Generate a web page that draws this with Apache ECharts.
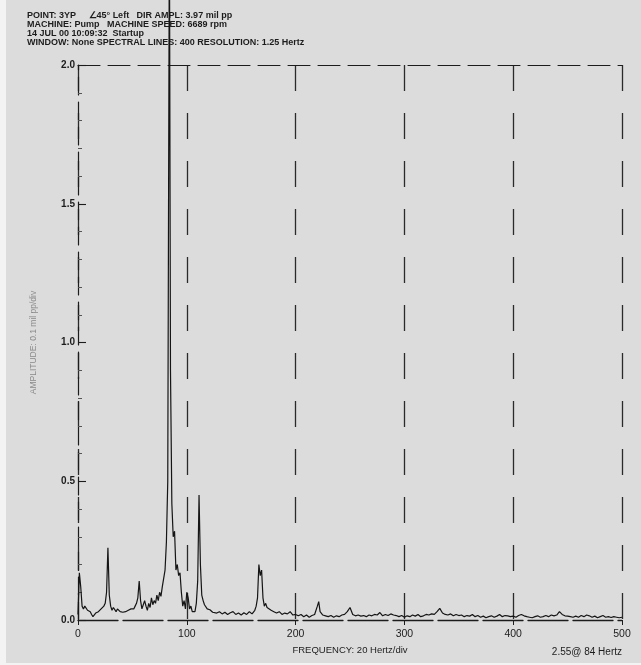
<!DOCTYPE html>
<html>
<head>
<meta charset="utf-8">
<script src="https://cdn.jsdelivr.net/npm/echarts@6/dist/echarts.min.js"></script>
<style>
  html, body { margin: 0; padding: 0; background: #f3f3f3; }
  #chart { width: 641px; height: 665px; }
</style>
</head>
<body>
<div id="chart"></div>
<script>
// Measurement header
const headerLines = [
  'POINT: 3YP     \u222045\u00b0 Left   DIR AMPL: 3.97 mil pp',
  'MACHINE: Pump   MACHINE SPEED: 6689 rpm',
  '14 JUL 00 10:09:32  Startup',
  'WINDOW: None SPECTRAL LINES: 400 RESOLUTION: 1.25 Hertz'
];

// Spectrum: frequency (Hz) and amplitude (mil pp)
const freqHz = [
  0, 1.25, 2.5, 3.75, 5, 6.25, 7.5, 8.75, 10, 11.25, 12.5, 13.75, 15, 16.25, 17.5, 18.75,
  20, 21.25, 22.5, 23.75, 25, 26.25, 27.5, 28.75, 30, 31.25, 32.5, 33.75, 35, 36.25, 37.5, 38.75,
  40, 41.25, 42.5, 43.75, 45, 46.25, 47.5, 48.75, 50, 51.25, 52.5, 53.75, 55, 56.25, 57.5, 58.75,
  60, 61.25, 62.5, 63.75, 65, 66.25, 67.5, 68.75, 70, 71.25, 72.5, 73.75, 75, 76.25, 77.5, 78.75,
  80, 81.25, 82.5, 84, 85, 86.25, 87.5, 88.75, 90, 91.25, 92.5, 93.75, 95, 96.25, 97.5, 98.75,
  100, 101.25, 102.5, 103.75, 105, 106.25, 107.5, 108.75, 110, 111.25, 112.5, 113.75, 115, 116.25, 117.5, 118.75,
  120, 121.25, 122.5, 123.75, 125, 127.5, 130, 132.5, 135, 137.5, 140, 142.5, 145, 147.5, 150, 152.5,
  155, 157.5, 160, 162.5, 163.75, 165, 166.25, 167.5, 168.75, 170, 171.25, 172.5, 173.75, 175, 177.5, 180,
  182.5, 185, 187.5, 190, 192.5, 195, 197.5, 200, 202.5, 205, 207.5, 210, 212.5, 215, 217.5, 220,
  221.25, 222.5, 225, 227.5, 230, 232.5, 235, 237.5, 240, 242.5, 245, 247.5, 250, 252.5, 255, 257.5,
  260, 262.5, 265, 267.5, 270, 272.5, 275, 277.5, 280, 282.5, 285, 287.5, 290, 292.5, 295, 297.5,
  300, 302.5, 305, 307.5, 310, 312.5, 315, 317.5, 320, 322.5, 325, 327.5, 330, 332.5, 335, 337.5,
  340, 342.5, 345, 347.5, 350, 352.5, 355, 357.5, 360, 362.5, 365, 367.5, 370, 372.5, 375, 377.5,
  380, 382.5, 385, 387.5, 390, 392.5, 395, 397.5, 400, 402.5, 405, 407.5, 410, 412.5, 415, 417.5,
  420, 422.5, 425, 427.5, 430, 432.5, 435, 437.5, 440, 442.5, 443.75, 445, 447.5, 450, 452.5, 455,
  457.5, 460, 462.5, 465, 467.5, 470, 472.5, 475, 477.5, 480, 482.5, 485, 487.5, 490, 492.5, 495,
  497.5, 500
];
const ampMil = [
  0.02, 0.17, 0.12, 0.05, 0.04, 0.05, 0.045, 0.035, 0.04, 0.03, 0.02, 0.012, 0.015, 0.025, 0.02, 0.03,
  0.035, 0.04, 0.045, 0.05, 0.06, 0.1, 0.26, 0.09, 0.05, 0.035, 0.045, 0.04, 0.03, 0.04, 0.035, 0.03,
  0.035, 0.028, 0.035, 0.03, 0.025, 0.035, 0.03, 0.04, 0.035, 0.04, 0.05, 0.06, 0.08, 0.14, 0.07, 0.04,
  0.055, 0.07, 0.05, 0.035, 0.06, 0.045, 0.08, 0.055, 0.07, 0.06, 0.09, 0.07, 0.1, 0.085, 0.12, 0.15,
  0.18, 0.28, 0.5, 2.55, 0.9, 0.42, 0.3, 0.32, 0.18, 0.2, 0.16, 0.17, 0.1, 0.05, 0.07, 0.04,
  0.1, 0.08, 0.04, 0.05, 0.03, 0.035, 0.03, 0.06, 0.14, 0.45, 0.2, 0.09, 0.07, 0.055, 0.05, 0.04,
  0.035, 0.037, 0.03, 0.028, 0.03, 0.025, 0.03, 0.022, 0.028, 0.02, 0.026, 0.03, 0.02, 0.025, 0.018, 0.026,
  0.02, 0.03, 0.022, 0.035, 0.05, 0.08, 0.2, 0.16, 0.18, 0.08, 0.05, 0.06, 0.045, 0.05, 0.035, 0.03,
  0.025, 0.03, 0.02, 0.025, 0.022, 0.03, 0.018, 0.02, 0.015, 0.02, 0.012, 0.018, 0.01, 0.016, 0.02, 0.05,
  0.066, 0.03, 0.018, 0.015, 0.012, 0.016, 0.01, 0.015, 0.012, 0.018, 0.02, 0.03, 0.045, 0.02, 0.015, 0.018,
  0.014, 0.016, 0.012, 0.018, 0.015, 0.02, 0.018, 0.027, 0.015, 0.02, 0.016, 0.022, 0.018, 0.016, 0.012, 0.016,
  0.01, 0.015, 0.012, 0.018, 0.014, 0.02, 0.012, 0.015, 0.02, 0.018, 0.022, 0.02, 0.03, 0.042, 0.025, 0.02,
  0.018, 0.022, 0.015, 0.02, 0.016, 0.018, 0.012, 0.016, 0.014, 0.02, 0.012, 0.016, 0.01, 0.014, 0.008, 0.012,
  0.015, 0.01, 0.014, 0.02, 0.012, 0.016, 0.015, 0.012, 0.014, 0.01, 0.016, 0.02, 0.015, 0.012, 0.01, 0.008,
  0.012, 0.015, 0.01, 0.012, 0.016, 0.012, 0.018, 0.015, 0.018, 0.03, 0.036, 0.02, 0.015, 0.014, 0.012, 0.01,
  0.014, 0.01, 0.016, 0.012, 0.018, 0.015, 0.01, 0.014, 0.008, 0.012, 0.016, 0.01, 0.012, 0.009, 0.012, 0.01,
  0.008, 0.01
];

// Axis ranges and labels
const xRange = [0, 500];
const xStep = 100;
const yRange = [0, 2.0];
const yStep = 0.5;
const xAxisTitle = 'FREQUENCY: 20 Hertz/div';
const yAxisTitle = 'AMPLITUDE: 0.1 mil pp/div';
const peakNote = { freq: 84, amp: 2.55 };

const ink = '#1c1c1c';
const font = '"Liberation Sans", Arial, sans-serif';

const chart = echarts.init(document.getElementById('chart'), null, { renderer: 'canvas' });

chart.setOption({
  animation: false,
  backgroundColor: '#dcdcdc',
  grid: { left: 78, right: 19, top: 65, bottom: 45 },
  graphic: [
    { type: 'rect', left: 0, top: 0, shape: { width: 6, height: 665 }, style: { fill: '#f3f3f3' }, silent: true },
    { type: 'rect', left: 0, top: 663, shape: { width: 641, height: 2 }, style: { fill: '#f3f3f3' }, silent: true },
    ...headerLines.map((t, i) => ({
      type: 'text', left: 27, top: 11 + i * 9,
      style: { text: t, font: 'bold 9px ' + font, fill: ink }
    })),
    {
      type: 'text', right: 19, top: 647,
      style: { text: peakNote.amp.toFixed(2) + '@ ' + peakNote.freq + ' Hertz', font: '10px ' + font, fill: ink }
    }
  ],
  xAxis: [{
    type: 'value',
    min: xRange[0], max: xRange[1], interval: xStep,
    name: xAxisTitle,
    nameLocation: 'middle',
    nameGap: 22,
    nameTextStyle: { color: ink, fontSize: 9.5, fontFamily: font },
    axisLine: { show: true, lineStyle: { color: ink, width: 1.3, type: [40, 5] } },
    axisTick: { show: true, inside: false, length: 5, lineStyle: { color: ink } },
    axisLabel: { color: ink, fontSize: 10.5, fontFamily: font, margin: 9 },
    splitLine: { show: true, lineStyle: { color: '#2a2a2a', width: 1.3, type: [26, 22] } }
  }, {
    type: 'value',
    position: 'top',
    min: xRange[0], max: xRange[1], interval: xStep,
    axisLine: { show: true, lineStyle: { color: ink, width: 1.1, type: [22, 8] } },
    axisTick: { show: false },
    axisLabel: { show: false },
    splitLine: { show: false }
  }],
  yAxis: {
    type: 'value',
    min: yRange[0], max: yRange[1], interval: yStep,
    name: yAxisTitle,
    nameLocation: 'middle',
    nameRotate: 90,
    nameGap: 40,
    nameTextStyle: { color: '#8a8a8a', fontSize: 8.5, fontFamily: font },
    axisLine: { show: true, lineStyle: { color: ink, width: 1.2, type: [18, 7] } },
    axisTick: { show: true, inside: true, length: 8, lineStyle: { color: ink, width: 1.1 } },
    minorTick: { show: true, splitNumber: 5, length: 4, lineStyle: { color: '#555' } },
    axisLabel: {
      color: ink, fontSize: 10, fontWeight: 'bold', fontFamily: font, margin: 3,
      formatter: v => v.toFixed(1)
    },
    splitLine: { show: false }
  },
  series: [{
    type: 'line',
    data: freqHz.map((f, i) => [f, ampMil[i]]),
    showSymbol: false,
    clip: false,
    lineStyle: { color: '#151515', width: 1.2 },
    z: 5
  }]
});
</script>
</body>
</html>
